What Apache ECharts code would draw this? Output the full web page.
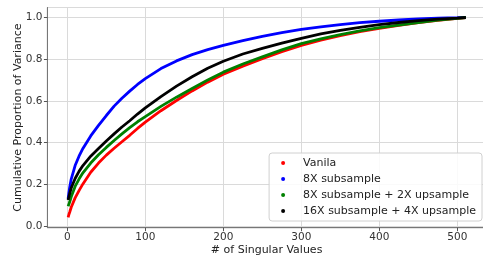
<!DOCTYPE html>
<html>
<head>
<meta charset="utf-8">
<script src="https://cdn.jsdelivr.net/npm/echarts@6/dist/echarts.min.js"></script>
<style>
  html, body { margin: 0; padding: 0; background: #fff; }
  #chart { width: 483px; height: 256px; }
</style>
</head>
<body>
<div id="chart"></div>
<script>
// 奇异值个数（横轴取样点）
const singularIdx = [1, 2, 3, 5, 10, 15, 20, 30, 40, 50, 60, 70, 80, 90, 100, 120, 140, 160, 180, 200,
  225, 250, 275, 300, 325, 350, 375, 400, 425, 450, 475, 500, 511];

// 各方法的累计方差比例
const vanila = [0.042, 0.055, 0.066, 0.090, 0.135, 0.170, 0.202, 0.258, 0.302, 0.340, 0.373, 0.404, 0.435, 0.468, 0.498,
  0.553, 0.602, 0.648, 0.690, 0.728, 0.767, 0.802, 0.836, 0.866, 0.891, 0.913, 0.932, 0.948, 0.962, 0.975, 0.986, 0.996, 1.0];
const sub8 = [0.130, 0.160, 0.185, 0.225, 0.290, 0.335, 0.372, 0.432, 0.483, 0.530, 0.575, 0.613, 0.647, 0.679, 0.707,
  0.755, 0.792, 0.822, 0.846, 0.866, 0.889, 0.910, 0.928, 0.943, 0.955, 0.966, 0.975, 0.982, 0.988, 0.993, 0.997, 0.999, 1.0];
const sub8up2 = [0.095, 0.105, 0.115, 0.140, 0.190, 0.225, 0.255, 0.302, 0.342, 0.377, 0.410, 0.442, 0.472, 0.500, 0.525,
  0.574, 0.618, 0.660, 0.700, 0.738, 0.777, 0.811, 0.845, 0.875, 0.898, 0.918, 0.936, 0.951, 0.964, 0.976, 0.987, 0.996, 1.0];
const sub16up4 = [0.125, 0.140, 0.155, 0.182, 0.228, 0.262, 0.290, 0.335, 0.372, 0.408, 0.442, 0.475, 0.505, 0.537, 0.567,
  0.621, 0.671, 0.716, 0.757, 0.790, 0.825, 0.852, 0.877, 0.900, 0.921, 0.938, 0.953, 0.966, 0.976, 0.985, 0.992, 0.997, 1.0];

const seriesNames = ['Vanila', '8X subsample', '8X subsample + 2X upsample', '16X subsample + 4X upsample'];
const seriesColors = ['#ff0000', '#0000ff', '#008000', '#000000'];
const seriesValues = [vanila, sub8, sub8up2, sub16up4];

const font = 'DejaVu Sans';
const chart = echarts.init(document.getElementById('chart'), null, { renderer: 'canvas' });

const option = {
  animation: false,
  grid: {
    left: 47.4, top: 7.5, width: 438.4, height: 220.2,
    outerBoundsMode: 'none',
    show: true, borderColor: '#777', borderWidth: 1, backgroundColor: 'transparent'
  },
  legend: {
    orient: 'vertical',
    right: 1, top: 153,
    padding: [3, 6, 3, 12],
    itemGap: 2,
    itemWidth: 30, itemHeight: 4,
    icon: 'circle',
    backgroundColor: 'rgba(255,255,255,0.85)',
    borderColor: '#d0d0d0', borderWidth: 1, borderRadius: 3,
    textStyle: { fontFamily: font, fontSize: 11, color: '#222', lineHeight: 14 },
    data: seriesNames
  },
  xAxis: {
    type: 'value',
    min: -25.55, max: 536.55,
    splitNumber: 5,
    name: '# of Singular Values',
    nameLocation: 'middle', nameGap: 17, nameMoveOverlap: false,
    nameTextStyle: { fontFamily: font, fontSize: 11, color: '#222' },
    axisLine: { show: true, onZero: false, lineStyle: { color: '#777' } },
    axisTick: { show: true, length: 3.5, lineStyle: { color: '#555' } },
    axisLabel: {
      fontFamily: font, fontSize: 10.5, color: '#333', margin: 4,
      showMinLabel: false, showMaxLabel: false,
      formatter: v => (Math.abs(v % 100) < 1e-6 ? String(v) : '')
    },
    splitLine: { show: true, lineStyle: { color: '#dadada', width: 1 } }
  },
  yAxis: {
    type: 'value',
    min: -0.008, max: 1.048,
    splitNumber: 5,
    name: 'Cumulative Proportion of Variance',
    nameLocation: 'middle', nameGap: 24, nameMoveOverlap: false,
    nameTextStyle: { fontFamily: font, fontSize: 11, color: '#222' },
    axisLine: { show: true, onZero: false, lineStyle: { color: '#777' } },
    axisTick: { show: true, length: 3.5, lineStyle: { color: '#555' } },
    axisLabel: {
      fontFamily: font, fontSize: 10.5, color: '#333', margin: 5,
      showMinLabel: false, showMaxLabel: false,
      formatter: v => {
        const r = Math.round(v * 10) / 10;
        return Math.abs(v - r) < 1e-6 && Math.round(r * 10) % 2 === 0 ? r.toFixed(1) : '';
      }
    },
    splitLine: { show: true, lineStyle: { color: '#dadada', width: 1 } }
  },
  series: seriesNames.map((name, i) => ({
    name: name,
    type: 'line',
    smooth: false,
    showSymbol: false,
    color: seriesColors[i],
    lineStyle: { color: seriesColors[i], width: 2.8 },
    data: singularIdx.map((x, j) => [x, seriesValues[i][j]])
  }))
};

chart.setOption(option);
</script>
</body>
</html>
